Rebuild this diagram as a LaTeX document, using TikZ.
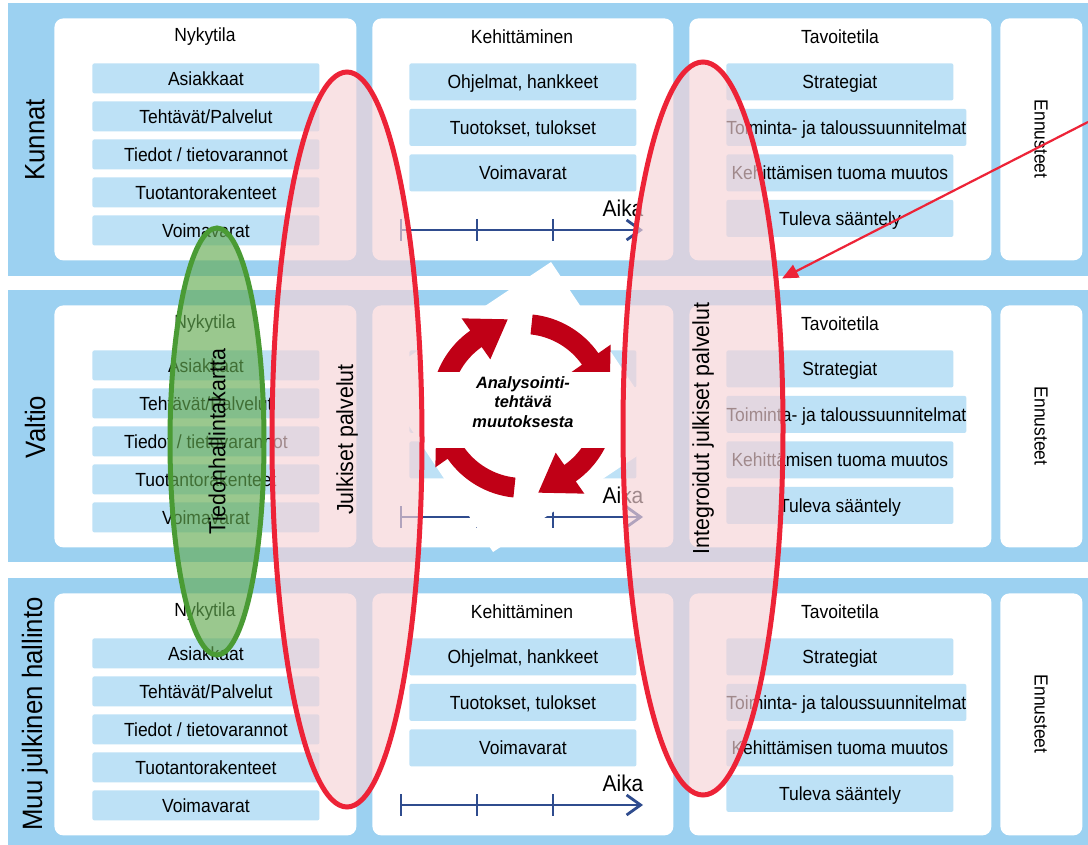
\documentclass[tikz,border=0pt]{standalone}
\usepackage{fontspec}
\setmainfont[FakeStretch=0.92]{Liberation Sans}
\newfontfamily\cyclefont{Liberation Sans}
\usepackage{xcolor}
\usetikzlibrary{shapes.geometric,arrows.meta}

\definecolor{bandblue}{RGB}{156,209,241}
\definecolor{itemblue}{RGB}{189,225,246}
\definecolor{linered}{RGB}{237,35,55}
\definecolor{pinkfill}{RGB}{247,211,215}
\definecolor{greenline}{RGB}{74,155,52}
\definecolor{greenfill}{RGB}{100,172,82}
\definecolor{cyclered}{RGB}{192,0,22}
\definecolor{timeblue}{RGB}{47,76,142}

\begin{document}
\begin{tikzpicture}[x=0.5pt,y=-0.5pt,font=\fontsize{9.5}{11}\selectfont,
	panel/.style={fill=white,rounded corners=4.5pt,inner sep=0pt,anchor=north west,minimum height=121pt},
	itembox/.style={fill=itemblue,rounded corners=1pt,inner sep=0pt,anchor=north west,minimum width=113.5pt,text height=6.8pt,text depth=0pt},
	rowlabel/.style={rotate=90,font=\fontsize{14}{16}\selectfont},
	oval/.style={ellipse,draw,line width=2.5pt,inner sep=0pt,rotate=90,fill opacity=0.65,text opacity=1,font=\fontsize{11.6}{14}\selectfont},
	timeline/.style={draw=timeblue,line width=1.4pt}]

	\useasboundingbox (0,0) rectangle (1088,845);

	% bands
	\foreach \top/\bot in {3/276,290/562,578/845}
	\fill[bandblue] (8,\top) rectangle (1088,\bot);

	\node[rowlabel] (kunnat) at (35,140) {Kunnat};
	\node[rowlabel] (valtio) at (35,427) {Valtio};
	\node[rowlabel] (muut) at (35,714) {Muu julkinen hallinto};

	\foreach \r/\dy in {1/0,2/287,3/575} {
		\node[panel,minimum width=151pt] (nyk\r) at (54,18+\dy) {};
		\node[panel,minimum width=150.5pt] (keh\r) at (372,18+\dy) {};
		\node[panel,minimum width=151pt] (tav\r) at (689,18+\dy) {};
		\node[panel,minimum width=41pt] (enn\r) at (1000,18+\dy) {};
		\node[rotate=-90] (ennt\r) at (1041,139+\dy) {Ennusteet};
		\node (nykt\r) at (205,37+\dy) {Nykytila};
		\node (tavt\r) at (840,37+\dy) {Tavoitetila};
		\foreach \txt [count=\i from 0] in {{Asiakkaat},{Tehtävät/Palvelut},{Tiedot / tietovarannot},{Tuotantorakenteet},{Voimavarat}}
		\node[itembox,minimum height=15pt] (nyk\r-\i) at (92,63+38*\i+\dy) {\txt};
		\foreach \txt [count=\i from 0] in {{Strategiat},{Toiminta- ja taloussuunnitelmat},{Kehittämisen tuoma muutos},{Tuleva sääntely}}
		\node[itembox,minimum height=18.5pt] (tav\r-\i) at (726,63+45.5*\i+\dy) {\txt};
		% aika
		\coordinate (ts\r) at (401,230+\dy);
		\coordinate (te\r) at (643,230+\dy);
		\draw[timeline,-{Straight Barb[length=7pt,width=10pt]}] (ts\r) -- (te\r);
		\foreach \x in {401,477,553}
		\draw[timeline] (\x,219+\dy) -- (\x,241+\dy);
		\node[font=\fontsize{11.4}{13}\selectfont] (aika\r) at (623,208+\dy) {Aika};
	}

	\foreach \r/\dy in {1/0,3/575} {
		\node (keht\r) at (522,37+\dy) {Kehittäminen};
		\foreach \txt [count=\i from 0] in {{Ohjelmat, hankkeet},{Tuotokset, tulokset},{Voimavarat}}
		\node[itembox,minimum height=18.5pt] (keh\r-\i) at (409,63+45.5*\i+\dy) {\txt};
	}
	\foreach \i in {0,1,2}
	\node[itembox,minimum height=18.5pt] (keh2-\i) at (409,350+45.5*\i) {};

	% analysointi
	\fill[white] (551,262) -- (667,436) -- (493,552) -- (377,378) -- cycle;
	\begin{scope}[shift={(523,406)},yscale=-1]
		\foreach \t [evaluate=\t as \b using \t-49, evaluate=\t as \p using \t-74] in {174,84,-6,-96}
		\fill[cyclered] (\t:92) arc[start angle=\t,end angle=\b,radius=92] -- (\b:107) -- (\p:88) -- (\b:57) -- (\b:72) arc[start angle=\b,end angle=\t,radius=72] -- cycle;
	\end{scope}
	\node[fill=white,inner sep=0pt,minimum width=95pt,minimum height=38pt] (tausta) at (523,410) {};
	\node[align=center,font=\cyclefont\fontsize{8.2}{9.8}\selectfont\bfseries\itshape] (analyysi) at (523,402) {Analysointi-\\tehtävä\\muutoksesta};

	\node[oval,draw=greenline,fill=greenfill,minimum width=213.5pt,minimum height=47pt] (tieto) at (217,441.5) {Tiedonhallintakartta};
	\node[oval,draw=linered,fill=pinkfill,minimum width=367.5pt,minimum height=75pt] (julk) at (347,439.5) {Julkiset palvelut};
	\node[oval,draw=linered,fill=pinkfill,minimum width=366.5pt,minimum height=80pt] (integ) at (703,428.5) {Integroidut julkiset palvelut};

	\coordinate (osoitin) at (1088,122);
	\draw[linered,line width=1.1pt,-{Triangle[length=8pt,width=7pt]},shorten >=2pt] (osoitin) -- (integ.333);
\end{tikzpicture}
\end{document}
